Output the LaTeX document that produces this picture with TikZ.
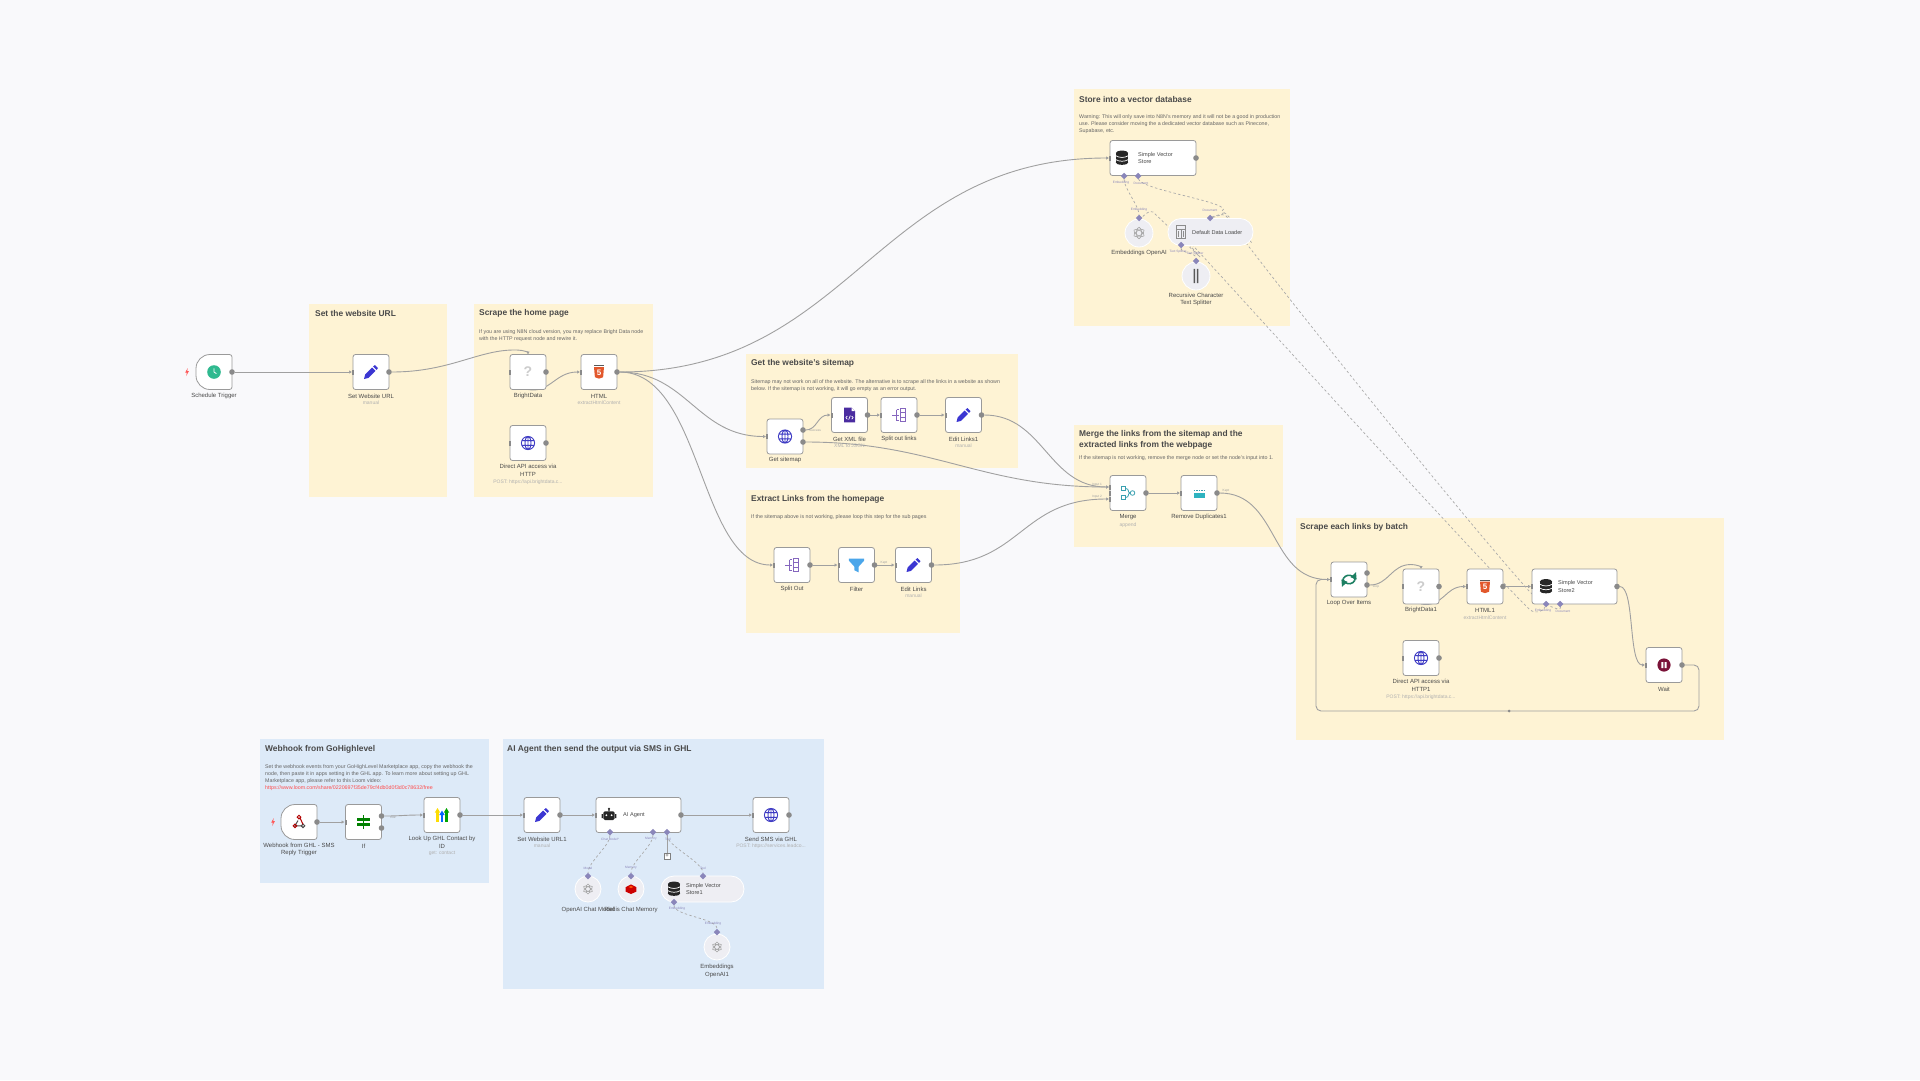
\documentclass[tikz,border=0pt]{standalone}
\usepackage{fontspec}
\setmainfont{Liberation Sans}
\usetikzlibrary{arrows.meta,shapes.geometric}
\definecolor{canvasc}{HTML}{F9F9FB}
\definecolor{stickyy}{HTML}{FEF3D4}
\definecolor{stickyb}{HTML}{DDEAF8}
\definecolor{wirec}{HTML}{A0A0A0}
\definecolor{portc}{HTML}{8A8A8A}
\definecolor{aic}{HTML}{8A86BA}
\definecolor{edgec}{HTML}{9A9A9A}
\definecolor{inkc}{HTML}{4A4A4A}
\definecolor{subc}{HTML}{B0B0B0}
\definecolor{pillc}{HTML}{EEEEF3}
\definecolor{penc}{HTML}{3B36D2}
\definecolor{globec}{HTML}{3F3CC4}
\definecolor{clockc}{HTML}{2FB98F}
\definecolor{htmlc}{HTML}{E2582C}
\definecolor{xmlc}{HTML}{4A2CA0}
\definecolor{splitc}{HTML}{8566BE}
\definecolor{funnelc}{HTML}{4BA6EA}
\definecolor{tealc}{HTML}{3AA0B0}
\definecolor{loopc}{HTML}{1C7F62}
\definecolor{pausec}{HTML}{7A1238}
\pgfdeclarelayer{back}\pgfdeclarelayer{wires}
\pgfsetlayers{back,wires,main}
\tikzset{
 sticky/.style={rectangle,draw=none,anchor=north west,inner sep=0,outer sep=0},
 ysticky/.style={sticky,fill=stickyy},
 bsticky/.style={sticky,fill=stickyb},
 title/.style={anchor=west,inner sep=0,font=\fontsize{8.4}{11}\selectfont\bfseries,text=inkc,align=left},
 desc/.style={anchor=north west,inner sep=0,font=\fontsize{5.3}{7.1}\selectfont,text=inkc!85,align=left},
 lab/.style={inner sep=0,font=\fontsize{6}{7.4}\selectfont,text=inkc,align=center},
 inlab/.style={anchor=west,inner sep=0,font=\fontsize{5.6}{7.6}\selectfont,text=inkc,align=left},
 sublab/.style={inner sep=0,font=\fontsize{5}{6}\selectfont,text=subc,align=center},
 tiny/.style={inner sep=0,font=\fontsize{3.2}{4}\selectfont,text=aic},
 tinyg/.style={inner sep=0,font=\fontsize{3.2}{4}\selectfont,text=wirec},
 wbox/.style={rectangle,draw=edgec,line width=.8pt,fill=white,rounded corners=2.5pt,minimum height=35pt,inner sep=0,outer sep=0},
 inport/.style={rectangle,fill=portc,minimum width=2pt,minimum height=5pt,inner sep=0,outer sep=0},
 outport/.style={circle,fill=portc,minimum size=5.6pt,inner sep=0,outer sep=0},
 aidot/.style={diamond,fill=aic,minimum size=6.5pt,inner sep=0,outer sep=0},
 aicirc/.style={circle,fill=pillc,draw=white,line width=.8pt,minimum size=28pt,inner sep=0,outer sep=0},
 aipill/.style={rectangle,rounded corners=13pt,fill=pillc,draw=white,line width=.8pt,minimum height=27pt,inner sep=0,outer sep=0},
 wire/.style={draw=wirec,line width=.9pt},
 flow/.style={wire,-{Latex[length=3pt,width=3.6pt]}},
 aiwire/.style={draw=wirec!90,line width=.7pt,dash pattern=on 2.4pt off 2.4pt},
 icclock/.pic={\fill[clockc] (0,0) circle (6.8);\draw[white,line width=.8pt] (0,-3.6)--(0,0)--(2.4,1.6);},
 icpen/.pic={\fill[penc] (-7,7)--(-5.9,2.6)--(1.2,-4.5)--(4.5,-1.2)--(-2.6,5.9)--cycle (2.2,-5.5)--(3.8,-7)--(7,-3.8)--(5.5,-2.2)--cycle;},
 icq/.pic={\node[inner sep=0,font=\fontsize{14}{14}\selectfont\bfseries,text=black!20] {?};},
 ichtml/.pic={\fill[htmlc] (-5,-5)--(5,-5)--(4.1,5.2)--(0,6.6)--(-4.1,5.2)--cycle;\fill[black!65] (-4.6,-7)rectangle(4.6,-5.7);\node[inner sep=0,font=\fontsize{8}{8}\selectfont\bfseries,text=white] at (0,.6) {5};},
 icglobe/.pic={\draw[globec,line width=.9pt] (0,0) circle (6.6) (0,0) ellipse (3 and 6.6) (0,-6.6)--(0,6.6) (-6,-2.4)--(6,-2.4) (-6,2.4)--(6,2.4);},
 icdb/.pic={\fill[black!85] (0,-5) ellipse (6.2 and 2.4);\fill[black!85] (-6.2,-5) rectangle (6.2,4.6);\fill[black!85] (0,4.6) ellipse (6.2 and 2.2);\draw[white,line width=.7pt] (-6.2,-2.3) .. controls (-3,0) and (3,0) .. (6.2,-2.3) (-6.2,1.6) .. controls (-3,3.8) and (3,3.8) .. (6.2,1.6);},
 icxml/.pic={\fill[xmlc] (-5.5,-7.3)--(2,-7.3)--(5.5,-3.8)--(5.5,7.3)--(-5.5,7.3)--cycle;\fill[white] (2,-7.3)--(2,-3.8)--(5.5,-3.8)--cycle;\draw[white,line width=.7pt] (-2.2,1)--(-3.6,2.6)--(-2.2,4.2) (2.2,1)--(3.6,2.6)--(2.2,4.2) (.8,.6)--(-.8,4.6);},
 icsplit/.pic={\draw[splitc,line width=.8pt] (-7,0)--(-2.5,0) (-2.5,-5.5)--(-2.5,5.5) (-2.5,-5.5)--(0,-5.5) (-2.5,5.5)--(0,5.5) (-2.5,0)--(0,0) (1,-6.5)--(1,6.5) (1,-6.5)--(6,-6.5)--(6,6.5)--(1,6.5) (1,-2.2)--(6,-2.2) (1,2.2)--(6,2.2);},
 icfunnel/.pic={\fill[funnelc] (-7.6,-6.4)--(7.6,-6.4)--(7.6,-4.4)--(2.2,1.6)--(2.2,7.4)--(-2.2,5.2)--(-2.2,1.6)--(-7.6,-4.4)--cycle;},
 icmerge/.pic={\draw[tealc,line width=.8pt] (-6.5,-6.5)rectangle(-2.5,-2.5) (-6.5,2.5)rectangle(-2.5,6.5) (4.5,0) circle (2.3) (-2.5,-4.5) .. controls (2,-4.5) and (-1,0) .. (2.2,0) (-2.5,4.5) .. controls (2,4.5) and (-1,0) .. (2.2,0);},
 icdedup/.pic={\fill[tealc!80!cyan] (-5.5,-.5) rectangle (5.5,4.5);\draw[tealc,line width=.8pt,dash pattern=on 1.4pt off 1.2pt] (-5.5,-3)--(5.5,-3);},
 icloop/.pic={\draw[loopc,line width=1.6pt] (-6.2,-1) arc[start angle=190,end angle=330,x radius=6.4,y radius=-6.4];\fill[loopc] (7,-7.4)--(7.6,0)--(1.6,-2.2)--cycle;\draw[loopc,line width=1.6pt] (6.2,1) arc[start angle=10,end angle=150,x radius=6.4,y radius=-6.4];\fill[loopc] (-7,7.4)--(-7.6,0)--(-1.6,2.2)--cycle;},
 icpause/.pic={\fill[pausec] (0,0) circle (6.6);\fill[white] (-2.6,-3) rectangle (-.7,3) (.7,-3) rectangle (2.6,3);},
 ichook/.pic={\draw[black!70,line width=1pt] (-1,-1.5)--(-4,3.8)--(3.5,3.8);\draw[red!70!black,line width=1pt] (0,-5) circle (1.8);\draw[red!70!black,line width=1pt] (-4,3.8) circle (1.8);\draw[black!70,line width=1pt] (4,3.8) circle (1.8);\draw[red!70!black,line width=1pt] (1,-4)--(4,2.2);},
 icif/.pic={\fill[green!50!black] (-.9,-7) rectangle (.9,7.2);\fill[green!50!black] (-6.6,-4.4) rectangle (6.6,-1.2);\fill[green!50!black] (-6.6,.8) rectangle (6.6,4);},
 icghl/.pic={\fill[yellow!80!orange] (-5.6,7)rectangle(-3.4,-3);\fill[yellow!80!orange] (-7.2,-2.5)--(-4.5,-7)--(-1.8,-2.5)--cycle;\fill[blue!60!cyan] (-1.1,7)rectangle(1.1,-.5);\fill[blue!60!cyan] (-2.7,0)--(0,-4.5)--(2.7,0)--cycle;\fill[green!65!black] (3.4,7)rectangle(5.6,-3);\fill[green!65!black] (1.8,-2.5)--(4.5,-7)--(7.2,-2.5)--cycle;},
 icbot/.pic={\fill[black!85,rounded corners=1.4pt] (-5.6,-3.6) rectangle (5.6,5);\fill[black!85] (-7.4,-1)rectangle(-6.2,3) (6.2,-1)rectangle(7.4,3) (-.6,-6)rectangle(.6,-3.6);\fill[black!85] (0,-6.2) circle (1.1);\fill[white] (-2.6,.2) circle (1) (2.6,.2) circle (1);},
 icredis/.pic={\fill[red!80!black] (-5.4,-1.8)--(0,-4.6)--(5.4,-1.8)--(5.4,2.6)--(0,5)--(-5.4,2.6)--cycle;\fill[red!40!orange] (-2.4,-2)--(0,-3.2)--(2.4,-2)--(0,-.9)--cycle;},
 icai/.pic={\draw[black!35,line width=.6pt] (0,0) ellipse (2.6 and 5.8) [rotate=60] (0,0) ellipse (2.6 and 5.8) [rotate=60] (0,0) ellipse (2.6 and 5.8);},
 icbars/.pic={\fill[black!65] (-2.4,-7.2) rectangle (-.8,7.2) (.8,-7.2) rectangle (2.4,7.2);},
 icload/.pic={\draw[black!45,line width=.6pt] (-4.6,-6.4) rectangle (4.6,6.4) (-4.6,-3)--(4.6,-3) (0,-3)--(0,6.4) (-2.8,-1)--(-2.8,5) (2.4,-1)--(2.4,5);},
 icbolt/.pic={\fill[red!65!white] (.7,-4)--(-1.8,.6)--(-.2,.6)--(-.7,4)--(1.8,-.8)--(.2,-.8)--cycle;},
}
\newcommand{\wfbare}[5][36]{%
 \node[wbox,minimum width=#1pt] (#2) at (#3,#4) {};
 \node[inport] (#2-i) at (#2.west) {};
 \ifx\relax#5\relax\else\pic at (#2) {#5};\fi}
\newcommand{\wfnode}[5][36]{%
 \wfbare[#1]{#2}{#3}{#4}{#5}
 \node[outport] (#2-o) at (#2.east) {};}
\begin{document}
\begin{tikzpicture}[x=1pt,y=-1pt]
\useasboundingbox (0,0) rectangle (1920,1080);
\begin{pgfonlayer}{back}
\fill[canvasc] (0,0) rectangle (1920,1080);
\node[ysticky,minimum width=138pt,minimum height=193pt] (gUrl) at (309,304) {};
\node[ysticky,minimum width=179pt,minimum height=193pt] (gHome) at (474,304) {};
\node[ysticky,minimum width=216pt,minimum height=237pt] (gStore) at (1074,89) {};
\node[ysticky,minimum width=272pt,minimum height=114pt] (gMap) at (746,354) {};
\node[ysticky,minimum width=214pt,minimum height=143pt] (gExt) at (745.5,490) {};
\node[ysticky,minimum width=209pt,minimum height=122pt] (gMerge) at (1074,425) {};
\node[ysticky,minimum width=428pt,minimum height=222pt] (gBatch) at (1296,518) {};
\node[bsticky,minimum width=229pt,minimum height=144pt] (gHook) at (260,739) {};
\node[bsticky,minimum width=321pt,minimum height=250pt] (gAgent) at (503,739) {};
\end{pgfonlayer}
% titles and notes
\node[title] (tUrl) at (315,313) {Set the website URL};
\node[title] (tHome) at (479,313) {Scrape the home page};
\node[desc] (dHome) at (479,329.5) {If you are using N8N cloud version, you may replace Bright Data node\\with the HTTP request node and rewire it.};
\node[title] (tStore) at (1079,99) {Store into a vector database};
\node[desc] (dStore) at (1079,114.5) {Warning: This will only save into N8N's memory and it will not be a good in production\\use. Please consider moving the a dedicated vector database such as Pinecone,\\Supabase, etc.};
\node[title] (tMap) at (751,363) {Get the website's sitemap};
\node[desc] (dMap) at (751,379.5) {Sitemap may not work on all of the website. The alternative is to scrape all the links in a website as shown\\below. If the sitemap is not working, it will go empty as an error output.};
\node[title] (tExt) at (751,499) {Extract Links from the homepage};
\node[desc] (dExt) at (751,514.5) {If the sitemap above is not working, please loop this step for the sub pages};
\node[title,anchor=north west] (tMerge) at (1079,430) {Merge the links from the sitemap and the\\extracted links from the webpage};
\node[desc] (dMerge) at (1079,455.5) {If the sitemap is not working, remove the merge node or set the node's input into 1.};
\node[title] (tBatch) at (1300,527) {Scrape each links by batch};
\node[title] (tHook) at (265,749) {Webhook from GoHighlevel};
\node[desc] (dHook) at (265,764.5) {Set the webhook events from your GoHighLevel Marketplace app, copy the webhook the\\node, then paste it in apps setting in the GHL app. To learn more about setting up GHL\\Marketplace app, please refer to this Loom video:\\\textcolor{red!70!white}{https://www.loom.com/share/0220697f35de79cf4db0d0f3d0c78632/free}};
\node[title] (tAgent) at (507,749) {AI Agent then send the output via SMS in GHL};
% trigger
\node[rectangle,minimum width=36pt,minimum height=35pt,inner sep=0,outer sep=0] (trig) at (214,372) {};
\draw[edgec,line width=.8pt,fill=white,rounded corners=2.5pt] (232,354.5) -- (232,389.5) -- (212,389.5) {[rounded corners=14pt] -- (196,389.5) -- (196,354.5)} -- (212,354.5) -- cycle;
\node[outport] (trig-o) at (trig.east) {};
\pic at (trig) {icclock};
\pic at (187,372) {icbolt};
\node[lab] (ltrig) at (214,396) {Schedule Trigger};
\wfnode{seturl}{371}{372}{icpen}
\node[lab] (lseturl) at (371,396) {Set Website URL};
\node[sublab] (sseturl) at (371,403) {manual};
\wfnode{bright}{528}{372}{icq}
\node[lab] (lbright) at (528,396) {BrightData};
\wfnode{html}{599}{372}{ichtml}
\node[lab] (lhtml) at (599,396) {HTML};
\node[sublab] (shtml) at (599,403) {extractHtmlContent};
\wfnode{direct}{528}{443}{icglobe}
\node[lab] (ldirect) at (528,470.5) {Direct API access via\\HTTP};
\node[sublab] (sdirect) at (528,482) {POST: https://api.brightdata.c...};
% store
\wfnode[86]{store}{1153}{158}{}
\pic at (1122,158) {icdb};
\node[inlab] (lstore) at (1138,158) {Simple Vector\\Store};
\node[aidot] (store-a) at (1124,176) {};
\node[aidot] (store-b) at (1138,176) {};
\node[tiny] (ts1) at (1121,183) {Embedding};
\node[tiny] (ts2) at (1141,183) {Document};
\node[aicirc] (emb) at (1139,233) {};
\pic at (emb) {icai};
\node[aidot] (emb-t) at (1139,218) {};
\node[tiny] (te1) at (1139,210) {Embedding};
\node[lab] (lemb) at (1139,253) {Embeddings OpenAI};
\node[aipill,minimum width=85pt] (loader) at (1210.5,232) {};
\pic at (1181,232) {icload};
\node[inlab] (lloader) at (1192,232) {Default Data Loader};
\node[aidot] (loader-t) at (1210,218) {};
\node[aidot] (loader-b) at (1181,245) {};
\node[tiny] (te2) at (1210,210) {Document};
\node[tiny] (te3) at (1178,252) {Text Splitter};
\node[aicirc] (rec) at (1196,276) {};
\pic at (rec) {icbars};
\node[aidot] (rec-t) at (1196,261) {};
\node[tiny] (te4) at (1195,254) {Text Splitter};
\node[lab] (lrec) at (1196,299.5) {Recursive Character\\Text Splitter};
% sitemap
\wfbare{map}{785}{436.5}{icglobe}
\node[outport] (map-a) at (803,430) {};
\node[outport] (map-b) at (803,442) {};
\node[lab] (lmap) at (785,460) {Get sitemap};
\node[tinyg] (tsucc) at (815,430.5) {Success};
\wfnode{xml}{849.5}{415}{icxml}
\node[lab] (lxml) at (849.5,439) {Get XML file};
\node[sublab] (sxml) at (849.5,446) {XML to JSON};
\wfnode{splitl}{899}{415}{icsplit}
\node[lab] (lsplitl) at (899,439) {Split out links};
\wfnode{edit1}{963.5}{415}{icpen}
\node[lab] (ledit1) at (963.5,439) {Edit Links1};
\node[sublab] (sedit1) at (963.5,446) {manual};
% extract
\wfnode{splito}{792}{565}{icsplit}
\node[lab] (lsplito) at (792,589) {Split Out};
\wfnode{filt}{856.5}{565}{icfunnel}
\node[lab] (lfilt) at (856.5,589) {Filter};
\node[tinyg] (tkept) at (884,563) {Kept};
\wfnode{edit}{913.5}{565}{icpen}
\node[lab] (ledit) at (913.5,589) {Edit Links};
\node[sublab] (sedit) at (913.5,596) {manual};
% merge
\wfnode{merge}{1128}{493}{icmerge}
\node[inport] (merge-a) at (1110,487) {};
\node[inport] (merge-b) at (1110,499) {};
\node[tinyg] (tin1) at (1097,485) {Input 1};
\node[tinyg] (tin2) at (1097,497) {Input 2};
\node[lab] (lmerge) at (1128,517) {Merge};
\node[sublab] (smerge) at (1128,525) {append};
\wfnode{dedup}{1199}{493}{icdedup}
\node[lab] (ldedup) at (1199,517) {Remove Duplicates1};
\node[tinyg] (tkept2) at (1226,491) {Kept};
% batch
\wfbare{loopn}{1349}{579.5}{icloop}
\node[outport] (loop-a) at (1367,573) {};
\node[outport] (loop-b) at (1367,585) {};
\node[tinyg] (tloop) at (1376,586.5) {loop};
\node[lab] (lloop) at (1349,603) {Loop Over Items};
\wfnode{bright1}{1421}{586.5}{icq}
\node[lab] (lbright1) at (1421,610) {BrightData1};
\wfnode{html1}{1485}{586.5}{ichtml}
\node[lab] (lhtml1) at (1485,610) {HTML1};
\node[sublab] (shtml1) at (1485,618) {extractHtmlContent};
\wfnode[85]{store2}{1574.5}{586.5}{}
\pic at (1546,586.5) {icdb};
\node[inlab] (lstore2) at (1558,586.5) {Simple Vector\\Store2};
\node[aidot] (store2-a) at (1546,604) {};
\node[aidot] (store2-b) at (1560,604) {};
\node[tiny] (ts3) at (1543,611) {Embedding};
\node[tiny] (ts4) at (1563,611) {Document};
\wfnode{direct1}{1421}{658}{icglobe}
\node[lab] (ldirect1) at (1421,685.5) {Direct API access via\\HTTP1};
\node[sublab] (sdirect1) at (1421,697) {POST: https://api.brightdata.c...};
\wfnode{waitn}{1664}{665}{icpause}
\node[lab] (lwait) at (1664,689) {Wait};
% webhook row
\node[rectangle,minimum width=36pt,minimum height=35pt,inner sep=0,outer sep=0] (hook) at (299,822) {};
\draw[edgec,line width=.8pt,fill=white,rounded corners=2.5pt] (317,804.5) -- (317,839.5) -- (297,839.5) {[rounded corners=14pt] -- (281,839.5) -- (281,804.5)} -- (297,804.5) -- cycle;
\node[outport] (hook-o) at (hook.east) {};
\pic at (hook) {ichook};
\pic at (273,822) {icbolt};
\node[lab] (lhook) at (299,849.5) {Webhook from GHL - SMS\\Reply Trigger};
\wfbare{ifn}{363.5}{822}{icif}
\node[outport] (if-a) at (381.5,816) {};
\node[outport] (if-b) at (381.5,828) {};
\node[tinyg] (ttrue) at (393,817.5) {true};
\node[lab] (lif) at (363.5,846) {If};
\wfnode{ghl}{442}{815}{icghl}
\node[lab] (lghl) at (442,842.5) {Look Up GHL Contact by\\ID};
\node[sublab] (sghl) at (442,853) {get: contact};
\wfnode{set1}{542}{815}{icpen}
\node[lab] (lset1) at (542,839) {Set Website URL1};
\node[sublab] (sset1) at (542,846) {manual};
\wfnode[85]{agent}{638.5}{815}{}
\pic at (609,815) {icbot};
\node[inlab] (lagent) at (623,815) {AI Agent};
\node[aidot] (agent-a) at (610,832) {};
\node[aidot] (agent-b) at (653,832) {};
\node[aidot] (agent-c) at (667,832) {};
\node[tiny] (ta1) at (610,839) {Chat Model*};
\node[tiny] (ta2) at (651,839) {Memory};
\node[tiny] (ta3) at (668,839) {Tool};
\node[rectangle,draw=wirec!80!black,fill=white,line width=.5pt,minimum size=6.5pt,inner sep=0,font=\fontsize{6}{6}\selectfont,text=inkc] (plus) at (667,856) {+};
\wfnode{sms}{771}{815}{icglobe}
\node[lab] (lsms) at (771,839) {Send SMS via GHL};
\node[sublab] (ssms) at (771,846) {POST: https://services.leadco...};
\node[aicirc,minimum size=26pt] (chat) at (588,889) {};
\pic[scale=.85] at (chat) {icai};
\node[aidot] (chat-t) at (588,876) {};
\node[tiny] (tc1) at (588,868) {Model};
\node[lab] (lchat) at (588,910) {OpenAI Chat Model};
\node[aicirc,minimum size=26pt] (redis) at (631,889) {};
\pic at (redis) {icredis};
\node[aidot] (redis-t) at (631,876) {};
\node[tiny] (tc2) at (631,868) {Memory};
\node[lab] (lredis) at (631,910) {Redis Chat Memory};
\node[aipill,minimum width=83pt,minimum height=26pt] (store1) at (702.5,889) {};
\pic at (674,889) {icdb};
\node[inlab] (lstore1) at (686,889) {Simple Vector\\Store1};
\node[aidot] (store1-t) at (703,876) {};
\node[aidot] (store1-b) at (674,902) {};
\node[tiny] (tc3) at (703,868) {Tool};
\node[tiny] (tc4) at (677,909) {Embedding};
\node[aicirc,minimum size=26pt] (emb1) at (717,947) {};
\pic[scale=.85] at (emb1) {icai};
\node[aidot] (emb1-t) at (717,932) {};
\node[tiny] (tc5) at (713,924) {Embedding};
\node[lab] (lemb1) at (717,971) {Embeddings\\OpenAI1};
% connectors
\coordinate (backr) at (1699,711);
\coordinate (backl) at (1316,711);
\coordinate (pkA) at (517,350);
\coordinate (pkB) at (1411,564.5);
\begin{pgfonlayer}{wires}
\draw[flow] (trig-o) -- (seturl-i);
\draw[flow] (seturl-o) .. controls +(62,0) and +(-38,-1) .. (pkA) .. controls +(6,0) and +(0,-2) .. (bright.north);
\draw[flow] (bright.south) .. controls +(22,4) and +(-26,0) .. (html-i);
\draw[flow] (html-o) .. controls +(235,0) and +(-235,0) .. (store-i);
\draw[flow] (html-o) .. controls +(70,0) and +(-70,0) .. (map-i);
\draw[flow] (html-o) .. controls +(85,0) and +(-75,0) .. (splito-i);
\draw[flow] (map-a) .. controls +(14,0) and +(-14,0) .. (xml-i);
\draw[flow] (xml-o) -- (splitl-i);
\draw[flow] (splitl-o) -- (edit1-i);
\draw[flow] (edit1-o) .. controls +(62,0) and +(-62,0) .. (merge-a);
\draw[flow] (map-b) .. controls +(130,0) and +(-130,0) .. (merge-a);
\draw[flow] (splito-o) -- (filt-i);
\draw[flow] (filt-o) -- (edit-i);
\draw[flow] (edit-o) .. controls +(90,0) and +(-90,0) .. (merge-b);
\draw[flow] (merge-o) -- (dedup-i);
\draw[flow] (dedup-o) .. controls +(62,0) and +(-62,0) .. (loopn-i);
\draw[flow] (loop-b) .. controls +(22,0) and +(-20,0) .. (pkB) .. controls +(6,0) and +(0,-2) .. (bright1.north);
\draw[flow] (bright1.south) .. controls +(22,4) and +(-22,0) .. (html1-i);
\draw[flow] (html1-o) -- (store2-i);
\draw[flow] (store2-o) .. controls +(18,0) and +(-18,0) .. (waitn-i);
\draw[wire,rounded corners=5pt] (waitn-o) -- (waitn-o -| backr) -- (backr) -- (backl) -- (backl |- loopn-i) -- (loopn-i);
\fill[portc] (1509,711) circle (1.5);
\draw[flow] (hook-o) -- (ifn-i);
\draw[flow] (if-a) .. controls +(20,0) and +(-20,0) .. (ghl-i);
\draw[flow] (ghl-o) -- (set1-i);
\draw[flow] (set1-o) -- (agent-i);
\draw[flow] (agent-o) -- (sms-i);
\draw[wire] (agent-c) -- (plus);
% AI links
\draw[aiwire] (store-a) .. controls +(0,12) and +(0,-12) .. (emb-t);
\draw[aiwire] (store-b) .. controls +(2,14) and +(14,-8) .. (1222,211) .. controls +(6,3) and +(4,-1) .. (loader-t);
\draw[aiwire] (loader-b) .. controls +(0,8) and +(0,-8) .. (rec-t);
\draw[aiwire] (store2-a) .. controls +(-2,8) and +(4,4) .. (1530,610) .. controls +(-100,-100) and +(-120,-140) .. (1200,257) -- (1153,212) .. controls +(-4,-3) and +(4,-1) .. (emb-t);
\draw[aiwire] (store2-b) .. controls +(2,10) and +(10,10) .. (1530,592) .. controls +(-90,-100) and +(-120,-140) .. (1252,243) -- (1226,216) .. controls +(-3,-3) and +(4,-2) .. (loader-t);
\draw[aiwire] (agent-a) .. controls +(0,14) and +(0,-14) .. (chat-t);
\draw[aiwire] (agent-b) .. controls +(0,14) and +(0,-14) .. (redis-t);
\draw[aiwire] (agent-c) .. controls +(0,14) and +(0,-14) .. (store1-t);
\draw[aiwire] (store1-b) .. controls +(0,14) and +(0,-14) .. (emb1-t);
\end{pgfonlayer}
\end{tikzpicture}
\end{document}
